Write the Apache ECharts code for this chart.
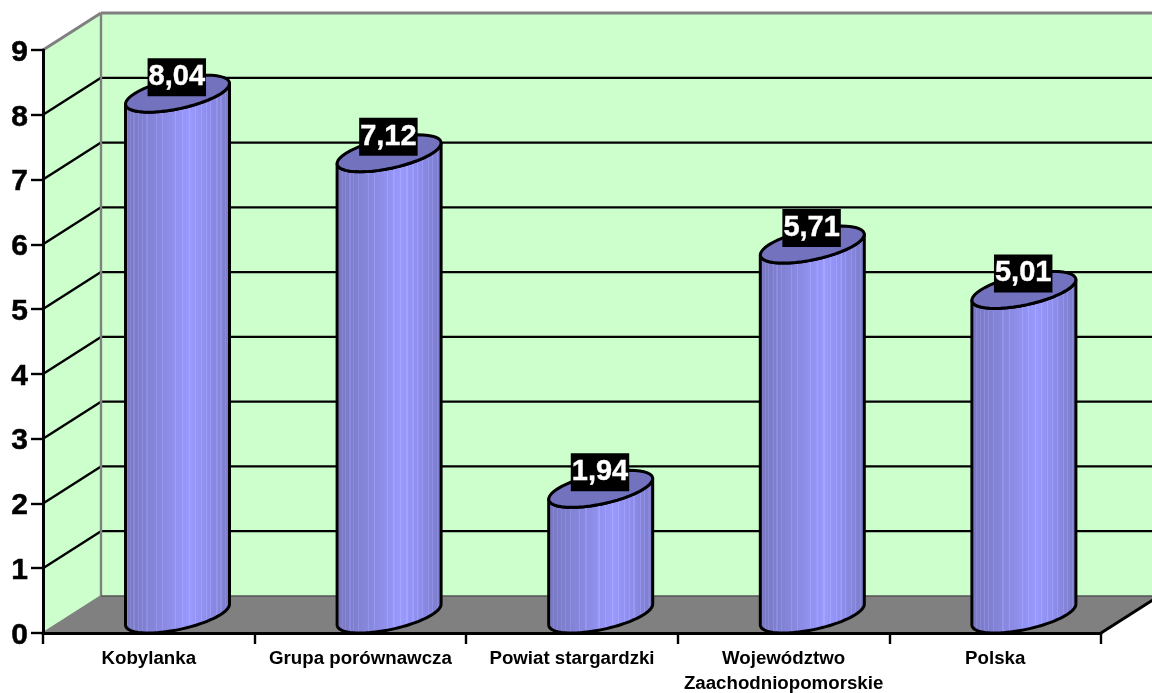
<!DOCTYPE html>
<html><head><meta charset="utf-8">
<style>html,body{margin:0;padding:0;background:#fff;overflow:hidden}#c{width:1152px;height:693px}</style>
<script src="https://cdn.jsdelivr.net/npm/echarts@6/dist/echarts.min.js"></script>
</head><body><div id="c"></div>
<script>
const categories = ['Kobylanka','Grupa porównawcza','Powiat stargardzki','Województwo\nZaachodniopomorskie','Polska'];
const values = [8.04,7.12,1.94,5.71,5.01];
const yTicks = [0,1,2,3,4,5,6,7,8,9];

const DX = 58, DY = -37;        // depth vector of the 3D box
const HALF_W = 52;              // cylinder half width
const chart = echarts.init(document.getElementById('c'), null, {renderer:'canvas',width:1152,height:693});

function ellipsePts(cx, cy, from, to) {
  const a = Math.sqrt(HALF_W*HALF_W - (DX/2)*(DX/2)), pts = [];
  for (let i=0;i<=48;i++){
    const t = from + (to-from)*i/48;
    pts.push([cx + a*Math.cos(t) + (DX/2)*Math.sin(t), cy + (DY/2)*Math.sin(t)]);
  }
  return pts;
}
// banded shading of the cylinder body
const shade = [[0,[118,118,192]],[.3,[134,134,220]],[.62,[153,153,255]],[.8,[140,140,232]],[1,[122,122,198]]];
function shadeAt(f){
  for(let i=1;i<shade.length;i++){ if(f<=shade[i][0]){
    const k=(f-shade[i-1][0])/(shade[i][0]-shade[i-1][0]);
    return shade[i-1][1].map((c,j)=>c+(shade[i][1][j]-c)*k);
  }}
  return shade[shade.length-1][1];
}
const rgb=(c,l)=>'rgb('+c.map(v=>Math.min(255,Math.round(v+l))).join(',')+')';
const streaks=[.029,.061,.093,.135,.170,.215,.305,.362,.484,.545,.609,.667,.724,.769,.811,.869,.907,.952];
const stops=[{offset:0,color:rgb(shadeAt(0),0)}];
streaks.forEach(f=>{
  stops.push({offset:f-.006,color:rgb(shadeAt(f-.006),0)});
  stops.push({offset:f-.005,color:rgb(shadeAt(f),14)});
  stops.push({offset:f+.005,color:rgb(shadeAt(f),14)});
  stops.push({offset:f+.006,color:rgb(shadeAt(f+.006),0)});
});
stops.push({offset:1,color:rgb(shadeAt(1),0)});
const bodyFill = new echarts.graphic.LinearGradient(0,0,1,0,stops);

function renderWalls(params, api) {
  if (params.dataIndex !== 0) return;
  const cs = params.coordSys;
  const L = cs.x, R = cs.x+cs.width, B = cs.y+cs.height, T = cs.y;
  const poly = (pts,fill,z2)=>({type:'polygon',shape:{points:pts},style:{fill},z2:z2||0});
  const line = (a,b,stroke,w,z2)=>({type:'line',shape:{x1:a[0],y1:a[1],x2:b[0],y2:b[1]},style:{stroke,lineWidth:w},z2:z2||1});
  const kids = [
    poly([[L+DX,T+DY],[R+DX,T+DY],[R+DX,B+DY],[L+DX,B+DY]],'#CCFFCC'),
    poly([[L,T],[L+DX,T+DY],[L+DX,B+DY],[L,B]],'#CCFFCC'),
    poly([[L,B],[L+DX,B+DY],[R+DX,B+DY],[R,B]],'#808080')
  ];
  yTicks.forEach(v=>{
    if (v===0 || v===9) return;
    const y = api.coord([0,v])[1];
    kids.push(line([L,y],[L+DX,y+DY],'#000',2.4));
    kids.push(line([L+DX,y+DY],[R+DX,y+DY],'#000',2.2));
  });
  kids.push(line([L,T],[L+DX,T+DY],'#808080',3));
  kids.push(line([L+DX,T+DY],[R+DX,T+DY],'#808080',3));
  kids.push(line([L+DX,T+DY],[L+DX,B+DY],'#808080',2.4));
  kids.push(line([L,B],[L+DX,B+DY],'#808080',2));
  kids.push(line([L+DX,B+DY],[R+DX,B+DY],'#555',1.5));
  kids.push(line([R,B],[R+DX,B+DY],'#000',3));
  return {type:'group',children:kids};
}
function renderCyl(params, api) {
  const base = api.coord([api.value(0),0]), top = api.coord([api.value(0),api.value(1)]);
  const cx = base[0]+DX/2-0.3, yb = base[1]+DY/2, yt = top[1]+DY/2;
  const tA = Math.atan2(DX/2, Math.sqrt(HALF_W*HALF_W-DX*DX/4)); // angle of the rightmost point
  const lower = ellipsePts(cx,yb,tA,tA-Math.PI);
  const upper = ellipsePts(cx,yt,tA-Math.PI,tA);
  const topEll = ellipsePts(cx,yt,0,Math.PI*2);
  return {type:'group',children:[
    {type:'polygon',shape:{points:lower.concat(upper)},style:{fill:bodyFill,stroke:'#000',lineWidth:3,lineJoin:'round'},z2:1},
    {type:'polygon',shape:{points:topEll},style:{fill:'#7272BF',stroke:'#000',lineWidth:3},z2:2}
  ]};
}
chart.setOption({
  animation:false,
  backgroundColor:'#fff',
  grid:{left:43,width:1058,top:50,height:583,containLabel:false,outerBoundsMode:'none'},
  xAxis:{type:'category',data:categories,z:3,
    axisLine:{show:true,lineStyle:{color:'#000',width:3}},
    axisTick:{show:true,length:11,alignWithLabel:false,lineStyle:{color:'#000',width:2.4}},
    axisLabel:{interval:0,margin:13,color:'#000',fontFamily:'Liberation Sans',fontWeight:'bold',fontSize:18.7,lineHeight:25,align:'center',verticalAlign:'top'},
    splitLine:{show:false}},
  yAxis:{type:'value',min:0,max:9,interval:1,z:3,
    axisLine:{show:true,lineStyle:{color:'#000',width:3}},
    axisTick:{show:true,length:12,lineStyle:{color:'#000',width:2.4}},
    axisLabel:{margin:15,color:'#000',fontFamily:'Liberation Sans',fontWeight:'bold',fontSize:30,verticalAlign:'top',lineHeight:5,textBorderColor:'#000',textBorderWidth:0.5,formatter:v=>String(v)},
    splitLine:{show:false}},
  series:[
    {type:'custom',z:1,silent:true,renderItem:renderWalls,data:[[0,0]],encode:{x:0,y:1},clip:false},
    {type:'custom',z:4,silent:true,renderItem:renderCyl,data:values.map((v,i)=>[i,v]),encode:{x:0,y:1},clip:false},
    {type:'scatter',z:5,silent:true,symbolSize:0,itemStyle:{opacity:1},data:values.map((v,i)=>[i,v]),
      label:{show:true,position:'inside',offset:[28,-35],opacity:1,formatter:p=>p.value[1].toFixed(2).replace('.',','),
        color:'#fff',backgroundColor:'#000',fontFamily:'Liberation Sans',fontWeight:'bold',fontSize:29,padding:[5,1,4,1],textBorderColor:'#fff',textBorderWidth:0.4}}
  ]
});
</script></body></html>
